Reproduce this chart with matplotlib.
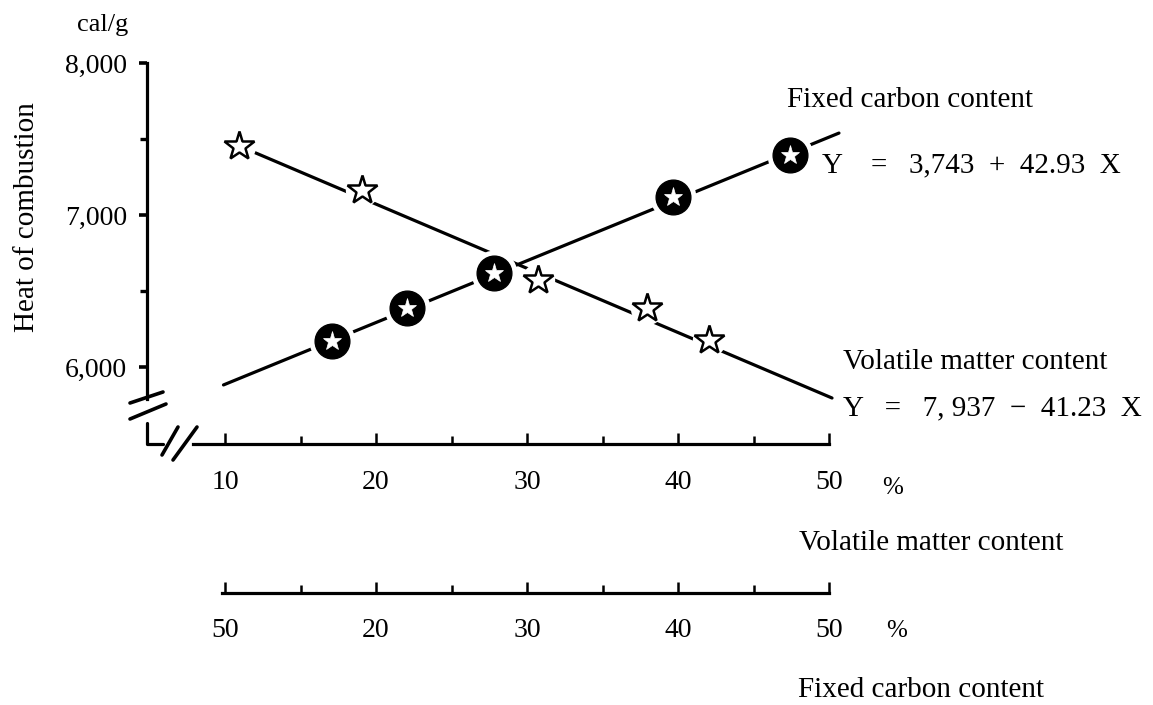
import matplotlib
matplotlib.use("Agg")
import matplotlib.pyplot as plt
from matplotlib.lines import Line2D

plt.rcParams['font.family'] = ['Liberation Serif', 'DejaVu Serif']

# ---- data ----
vm_x = [10.95, 19.05, 30.75, 37.93, 42.07]      # volatile matter content (%)
vm_y = [7454, 7164, 6572, 6386, 6178]           # heat of combustion (cal/g)
fc_x = [17.07, 22.07, 27.81, 39.69, 47.42]      # fixed carbon content (%)
fc_y = [6173, 6386, 6616, 7120, 7395]
vm_line_x = [10.95, 50.2]
vm_line_y = [7454, 5796]
fc_line_x = [9.9, 50.66]
fc_line_y = [5882, 7539]

x_major = [10, 20, 30, 40, 50]
x_minor = [15, 25, 35, 45]
vm_tick_labels = ['10', '20', '30', '40', '50']
fc_tick_labels = ['50', '20', '30', '40', '50']
y_major = [6000, 7000, 8000]
y_minor = [6500, 7500]
y_tick_labels = ['6,000', '7,000', '8,000']

eq_fc = 'Y    =   3,743  +  42.93  X'
eq_vm = 'Y   =   7, 937  \u2212  41.23  X'

W, H = 1153, 705
fig = plt.figure(figsize=(W / 100, H / 100), dpi=100)


def fx(px):
    return px / W


def fy(py):
    return 1 - py / H


# layout (pixels)
X10_PX, X50_PX = 225, 829
Y8000_PX, PX_PER_1000 = 63, 152
ax_left_px, ax_right_px = 146.7, 860
ax_top_px, ax_bottom_px = 50, 444
ax2_px = 593

ppu_x = (X50_PX - X10_PX) / 40.0
ppu_y = PX_PER_1000 / 1000.0
xlim = (10 - (X10_PX - ax_left_px) / ppu_x, 10 + (ax_right_px - X10_PX) / ppu_x)
ylim = (8000 - (ax_bottom_px - Y8000_PX) / ppu_y, 8000 + (Y8000_PX - ax_top_px) / ppu_y)

ax = fig.add_axes([fx(ax_left_px), fy(ax_bottom_px),
                   (ax_right_px - ax_left_px) / W, (ax_bottom_px - ax_top_px) / H])
ax.set_xlim(xlim)
ax.set_ylim(ylim)
ax.patch.set_alpha(0)

LW = 2.3
TICK_FS = 20
FS = 21
for s in ['top', 'right']:
    ax.spines[s].set_visible(False)
ax.spines['left'].set_linewidth(LW)
ax.spines['left'].set_bounds(5790, 8000)
ax.spines['bottom'].set_linewidth(LW)
ax.spines['bottom'].set_bounds(10 - (X10_PX - 193) / ppu_x, 50)

ax.set_yticks(y_major, y_tick_labels)
ax.set_yticks(y_minor, minor=True)
ax.tick_params(axis='y', which='major', direction='out', length=6, width=2.6,
               labelsize=TICK_FS, pad=8)
ax.tick_params(axis='y', which='minor', direction='out', length=5, width=2.4)
ax.set_xticks(x_major, vm_tick_labels)
ax.set_xticks(x_minor, minor=True)
ax.tick_params(axis='x', which='major', direction='in', length=8, width=1.8,
               labelsize=TICK_FS, pad=19)
ax.tick_params(axis='x', which='minor', direction='in', length=6, width=1.8)

# regression lines
ax.plot(fc_line_x, fc_line_y, color='black', lw=LW, zorder=2, solid_capstyle='round')
ax.plot(vm_line_x, vm_line_y, color='black', lw=LW, zorder=2, solid_capstyle='round')

# halos to create gaps around markers
ax.plot(fc_x, fc_y, 'o', ms=33, color='white', mec='none', zorder=3)
ax.plot(vm_x, vm_y, 'o', ms=24, color='white', mec='none', zorder=3)

# markers
ax.plot(vm_x, vm_y, '*', ms=22, mfc='white', mec='black', mew=1.8, zorder=4)
ax.plot(fc_x, fc_y, 'o', ms=25, mfc='black', mec='black', zorder=4)
ax.plot(fc_x, fc_y, '*', ms=14, mfc='white', mec='white', mew=0.5, zorder=5)

# second x axis (fixed carbon content)
ax2 = fig.add_axes([fx(ax_left_px), fy(ax2_px),
                    (ax_right_px - ax_left_px) / W, 0.0001])
ax2.set_xlim(xlim)
ax2.patch.set_alpha(0)
for s in ['top', 'right', 'left']:
    ax2.spines[s].set_visible(False)
ax2.spines['bottom'].set_linewidth(LW)
ax2.spines['bottom'].set_bounds(10 - (X10_PX - 222) / ppu_x, 50)
ax2.set_yticks([])
ax2.set_xticks(x_major, fc_tick_labels)
ax2.set_xticks(x_minor, minor=True)
ax2.tick_params(axis='x', which='major', direction='in', length=8, width=1.8,
                labelsize=TICK_FS, pad=18)
ax2.tick_params(axis='x', which='minor', direction='in', length=6, width=1.8)


# axis-break marks
def seg(xs, ys, lw=2.6):
    fig.add_artist(Line2D([fx(v) for v in xs], [fy(v) for v in ys],
                          transform=fig.transFigure, color='black', lw=lw,
                          solid_capstyle='round'))


seg([130, 163], [403, 392])
seg([130, 166], [419, 404])
seg([146.7, 146.7, 163], [423, 444, 444], lw=LW)
seg([162, 178], [455, 427])
seg([173, 197], [460, 427])

# texts
fig.text(fx(128), fy(25), 'cal/g', ha='right', va='center', fontsize=19)
fig.text(fx(27), fy(217), 'Heat of combustion', rotation=90, ha='center',
         va='center', fontsize=FS)
fig.text(fx(787), fy(100), 'Fixed carbon content', ha='left', va='center', fontsize=FS)
fig.text(fx(822), fy(165), eq_fc, ha='left', va='center', fontsize=FS)
fig.text(fx(843), fy(362), 'Volatile matter content', ha='left', va='center', fontsize=FS)
fig.text(fx(843), fy(408), eq_vm, ha='left', va='center', fontsize=FS)
fig.text(fx(893), fy(488), '%', ha='center', va='center', fontsize=18)
fig.text(fx(897), fy(631), '%', ha='center', va='center', fontsize=18)
fig.text(fx(799), fy(543), 'Volatile matter content', ha='left', va='center', fontsize=FS)
fig.text(fx(798), fy(690), 'Fixed carbon content', ha='left', va='center', fontsize=FS)

fig.savefig('out.png', dpi=100, facecolor='white')
